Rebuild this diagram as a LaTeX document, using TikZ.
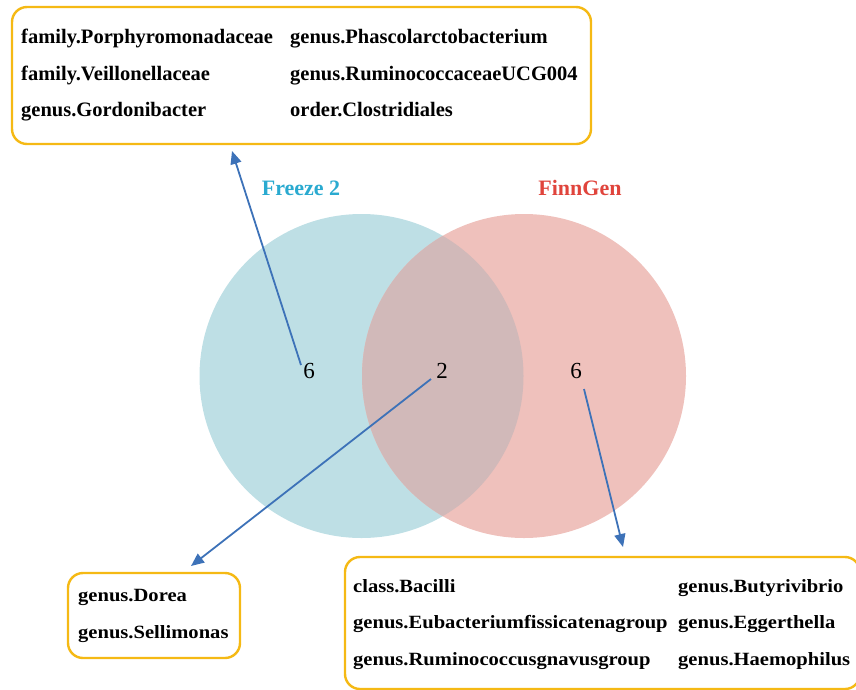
\documentclass[tikz,border=0pt]{standalone}
\usepackage{fontspec}
\setmainfont{Liberation Serif}
\usetikzlibrary{arrows.meta}
\definecolor{boxor}{HTML}{F5B914}
\definecolor{cblue}{HTML}{BEDFE5}
\definecolor{cpink}{HTML}{EFC1BC}
\definecolor{cmix}{HTML}{D1B9B9}
\definecolor{arrblue}{HTML}{3D72B8}
\definecolor{frzc}{HTML}{2AAAD0}
\definecolor{finc}{HTML}{E0443C}
\tikzset{
  listbox/.style={draw=boxor, line width=2.4pt, rounded corners=15pt, fill=white},
  toptext/.style={anchor=base west, inner sep=0pt, font=\fontsize{20.5}{22}\selectfont\bfseries},
  bottext/.style={anchor=base west, inner sep=0pt, font=\fontsize{18.7}{20}\selectfont\bfseries},
  numtext/.style={inner sep=0pt, font=\fontsize{23}{25}\selectfont},
  settitle/.style={inner sep=0pt, font=\fontsize{22}{24}\selectfont\bfseries},
  link/.style={draw=arrblue, line width=1.8pt, -{Triangle[length=13pt,width=11pt]}}
}
\newcommand{\cond}[1]{\scalebox{1.1}[1]{#1}}
\begin{document}
\begin{tikzpicture}[x=1pt,y=-1pt]
\useasboundingbox (0,0) rectangle (856,689);
\clip (0,0) rectangle (856,689);
% circles
\fill[cblue] (361.5,376) circle (162);
\fill[cpink] (524,376) circle (162);
\begin{scope}
\clip (361.5,376) circle (162);
\fill[cmix] (524,376) circle (162);
\end{scope}
% titles
\node[settitle, text=frzc] (frz) at (301,188) {Freeze 2};
\node[settitle, text=finc] (fin) at (580,188) {FinnGen};
% numbers
\node[numtext] (nl) at (309,371) {6};
\node[numtext] (nm) at (442,371) {2};
\node[numtext] (nr) at (576,371) {6};
% boxes
\draw[listbox] (12,7) rectangle (591,144);
\node[toptext] (t11) at (21,43.3) {family.Porphyromonadaceae};
\node[toptext] (t21) at (21,80) {family.Veillonellaceae};
\node[toptext] (t31) at (21,116.5) {genus.Gordonibacter};
\node[toptext] (t12) at (290,43.3) {genus.Phascolarctobacterium};
\node[toptext] (t22) at (290,80) {genus.RuminococcaceaeUCG004};
\node[toptext] (t32) at (290,116.5) {order.Clostridiales};
\draw[listbox] (68,573) rectangle (240,658);
\node[bottext] (b1) at (78,601.5) {\cond{genus.Dorea}};
\node[bottext] (b2) at (78,638) {\cond{genus.Sellimonas}};
\draw[listbox] (345,557) rectangle (860,689);
\node[bottext] (r11) at (353,592) {\cond{class.Bacilli}};
\node[bottext] (r21) at (353,628.5) {\cond{genus.Eubacteriumfissicatenagroup}};
\node[bottext] (r31) at (353,665) {\cond{genus.Ruminococcusgnavusgroup}};
\node[bottext] (r12) at (678,592) {\cond{genus.Butyrivibrio}};
\node[bottext] (r22) at (678,628.5) {\cond{genus.Eggerthella}};
\node[bottext] (r32) at (678,665) {\cond{genus.Haemophilus}};
% arrows
\coordinate (s1) at (301,365);
\coordinate (e1) at (232,151);
\coordinate (s2) at (431,379);
\coordinate (e2) at (191,566);
\coordinate (s3) at (584,389);
\coordinate (e3) at (623,547);
\draw[link] (s1) -- (e1);
\draw[link] (s2) -- (e2);
\draw[link] (s3) -- (e3);
\end{tikzpicture}
\end{document}
